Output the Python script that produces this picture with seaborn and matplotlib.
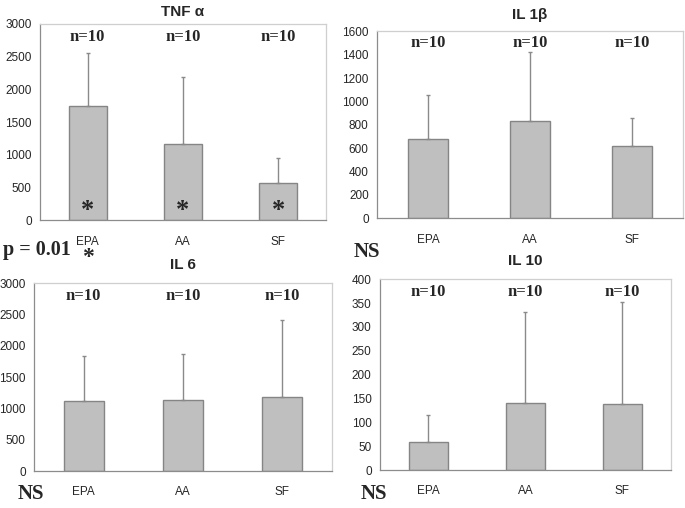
import matplotlib
matplotlib.use("Agg")
import matplotlib.pyplot as plt
import pandas as pd
import seaborn as sns

groups = ["EPA", "AA", "SF"]

tnf_mean = [1740, 1165, 575]
tnf_sd = [815, 1025, 377]

il1b_mean = [678, 830, 621]
il1b_sd = [380, 595, 237]

il6_mean = [1114, 1135, 1178]
il6_sd = [724, 735, 1235]

il10_mean = [58, 140, 139]
il10_sd = [57, 192, 213]

n_labels = ["n=10", "n=10", "n=10"]

BAR = "#bfbfbf"
EDGE = "#858585"
AXIS = "#8c8c8c"
FRAME = "#cfcfcf"
SERIF = ["Liberation Serif", "DejaVu Serif"]
SANS = ["Liberation Sans", "DejaVu Sans"]

sns.set_theme(style="white")
plt.rcParams["font.family"] = SANS

fig = plt.figure(figsize=(6.85, 5.08), dpi=100)

panels = [
    ("TNF α", tnf_mean, tnf_sd, 3000, 500, [0.0584, 0.5660, 0.4175, 0.3870], 6),
    ("IL 1β", il1b_mean, il1b_sd, 1600, 200, [0.5504, 0.5703, 0.4467, 0.3681], 9),
    ("IL 6", il6_mean, il6_sd, 3000, 500, [0.0496, 0.0728, 0.4350, 0.3695], 10),
    ("IL 10", il10_mean, il10_sd, 400, 50, [0.5547, 0.0748, 0.4248, 0.3754], 10),
]

axes = []
for title, mean, sd, ymax, step, rect, tpad in panels:
    ax = fig.add_axes(rect)
    df = pd.DataFrame({"group": groups, "value": mean})
    sns.barplot(df, x="group", y="value", color=BAR, width=0.4, edgecolor=EDGE,
                linewidth=1.0, saturation=1, ax=ax)
    ax.errorbar(range(len(groups)), mean, yerr=[[0] * len(sd), sd], fmt="none",
                ecolor="#8a8a8a", elinewidth=1.0, capsize=1.5, capthick=1.0, zorder=1)
    ax.set_xlim(-0.5, 2.5)
    ax.set_ylim(0, ymax)
    ax.set_yticks(range(0, ymax + 1, step))
    ax.set_xlabel("")
    ax.set_ylabel("")
    ax.set_title(title, fontsize=11, fontweight="bold", pad=tpad, family=SANS)
    ax.set_xticks([0.5, 1.5], minor=True)
    ax.tick_params(axis="x", which="major", length=0, pad=11, labelsize=8.5)
    ax.tick_params(axis="x", which="minor", length=4, color=AXIS, width=0.8, direction="out")
    ax.tick_params(axis="y", length=3, color=AXIS, width=0.8, direction="out", pad=3, labelsize=8.5)
    for side in ("left", "bottom"):
        ax.spines[side].set_color(AXIS)
        ax.spines[side].set_linewidth(0.9)
    for side in ("top", "right"):
        ax.spines[side].set_color(FRAME)
        ax.spines[side].set_linewidth(0.9)
    for i, lab in enumerate(n_labels):
        ax.text(i, 0.935, lab, transform=ax.get_xaxis_transform(), ha="center", va="center",
                fontsize=12, fontweight="bold", family=SERIF)
    axes.append(ax)

# significance stars inside the TNF bars
for i in range(len(groups)):
    axes[0].text(i, 150, "*", ha="center", va="center", fontsize=19, fontweight="bold", family=SERIF)

fig.text(0.004, 0.508, "p = 0.01", fontsize=14.5, fontweight="bold", family=SERIF, va="center")
fig.text(0.128, 0.494, "*", fontsize=17, fontweight="bold", family=SERIF, va="center", ha="center")
fig.text(0.516, 0.504, "NS", fontsize=15, fontweight="bold", family=SERIF, va="center")
fig.text(0.026, 0.027, "NS", fontsize=15, fontweight="bold", family=SERIF, va="center")
fig.text(0.527, 0.027, "NS", fontsize=15, fontweight="bold", family=SERIF, va="center")

fig.savefig("out.png", dpi=100)
